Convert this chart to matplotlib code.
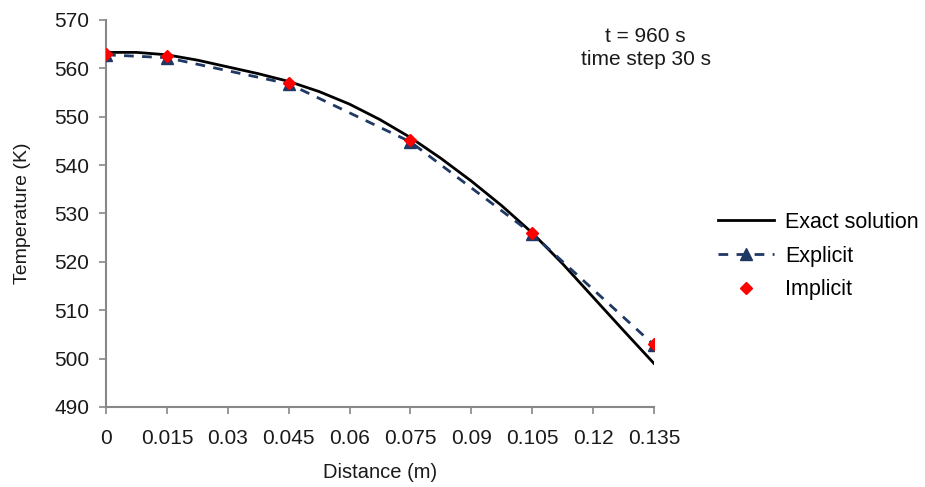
import numpy as np
import matplotlib
matplotlib.use('Agg')
import matplotlib.pyplot as plt

plt.rcParams['font.family'] = ['Liberation Sans', 'DejaVu Sans']

# exact solution
x_exact = [0, 0.0075, 0.015, 0.0225, 0.03, 0.0375, 0.045, 0.0525, 0.06, 0.0675,
           0.075, 0.0825, 0.09, 0.0975, 0.105, 0.1125, 0.12, 0.1275, 0.135]
t_exact = [563.3, 563.3, 562.8, 561.7, 560.3, 558.9, 557.3, 555.2, 552.6, 549.4,
           545.7, 541.4, 536.7, 531.6, 526.0, 519.6, 512.7, 505.8, 499.0]

# numerical nodes
x_nodes = [0, 0.015, 0.045, 0.075, 0.105, 0.135]
t_explicit = [562.8, 562.2, 556.8, 544.8, 525.8, 502.8]
t_implicit = [563.0, 562.5, 557.0, 545.2, 526.0, 503.0]

xticks = [0, 0.015, 0.03, 0.045, 0.06, 0.075, 0.09, 0.105, 0.12, 0.135]
xtick_labels = ['0', '0.015', '0.03', '0.045', '0.06', '0.075', '0.09', '0.105', '0.12', '0.135']
yticks = [490, 500, 510, 520, 530, 540, 550, 560, 570]

fig = plt.figure(figsize=(9.25, 4.87), dpi=100)
ax = fig.add_axes([0.1146, 0.1643, 0.5924, 0.7947])

ax.plot(x_exact, t_exact, color='black', lw=2, label='Exact solution', zorder=2)
ax.plot(x_nodes, t_explicit, color='#1f3864', lw=2, ls=(0, (3.5, 3)),
        marker='^', ms=9, label='Explicit', zorder=3)
ax.plot(x_nodes, t_implicit, color='red', lw=0, marker='D', ms=6,
        label='Implicit', zorder=4)

ax.set_xlim(0, 0.135)
ax.set_ylim(490, 570)
ax.set_xticks(xticks)
ax.set_xticklabels(xtick_labels)
ax.set_yticks(yticks)
ax.tick_params(labelsize=15, colors='#888888', labelcolor='#1a1a1a', length=5, width=1.2, pad=11)
ax.tick_params(axis='y', pad=7)

for s in ['top', 'right']:
    ax.spines[s].set_visible(False)
for s in ['left', 'bottom']:
    ax.spines[s].set_color('#888888')
    ax.spines[s].set_linewidth(1.5)

ax.set_xlabel('Distance (m)', fontsize=14.5, color='#1a1a1a', labelpad=11)
ax.set_ylabel('Temperature (K)', fontsize=14, color='#1a1a1a', labelpad=17)

fig.text(0.698, 0.926, 't = 960 s', ha='center', va='center', fontsize=15, color='#1a1a1a')
fig.text(0.698, 0.877, 'time step 30 s', ha='center', va='center', fontsize=15, color='#1a1a1a')

ax.legend(loc='center left', bbox_to_anchor=(1.082, 0.39), frameon=False, fontsize=15.5,
          handlelength=2.6, labelspacing=0.6, handletextpad=0.5)

fig.savefig('out.png', dpi=100)
